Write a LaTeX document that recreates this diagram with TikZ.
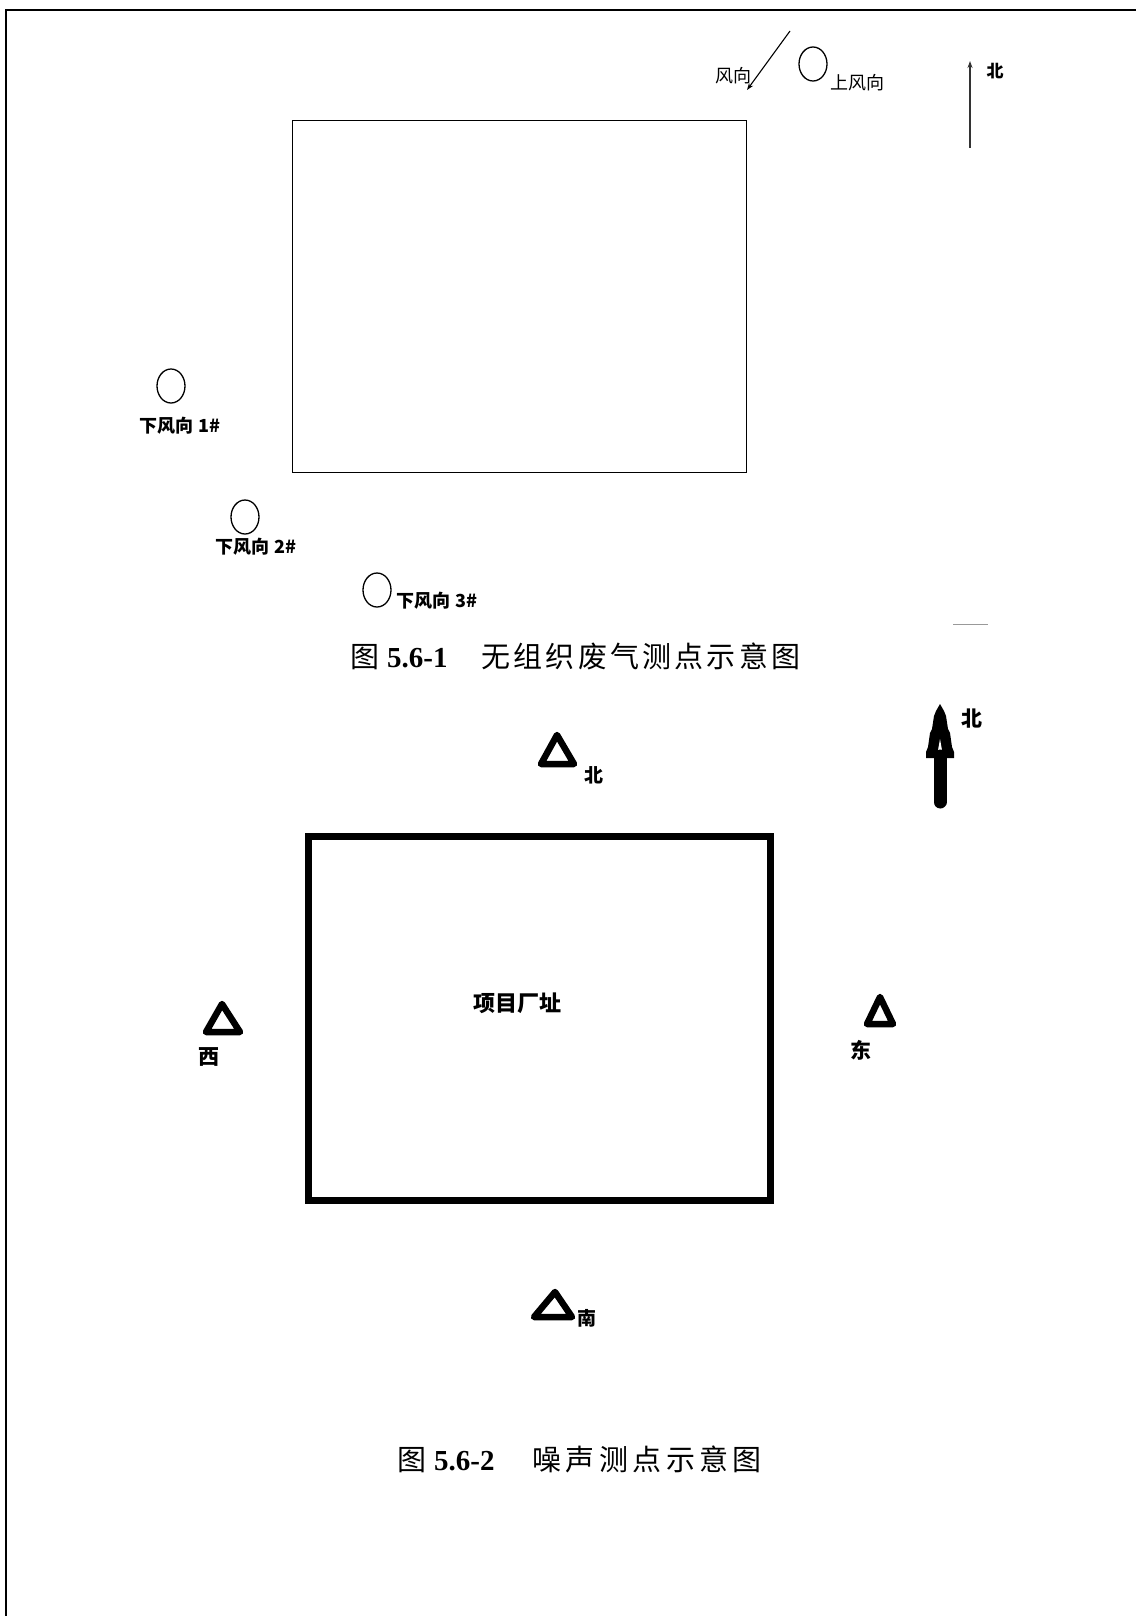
\documentclass[tikz,border=0pt]{standalone}
\usepackage{fontspec}
\setmainfont{Liberation Serif}
\newfontfamily\cjk{Noto Sans CJK SC}
\newfontfamily\cjkcapa[LetterSpace=11]{Noto Sans CJK SC}
\newfontfamily\cjkcapb[LetterSpace=15]{Noto Sans CJK SC}
\usetikzlibrary{arrows.meta,shapes.geometric}
\begin{document}
\begin{tikzpicture}[x=1pt,y=-1pt,
  lbl/.style={font=\cjk\bfseries\fontsize{18}{18}\selectfont, inner sep=0pt},
  lblr/.style={font=\cjk\fontsize{18}{18}\selectfont, inner sep=0pt},
  lblb/.style={font=\cjk\bfseries\fontsize{21}{21}\selectfont, inner sep=0pt},
  station/.style={draw, ellipse, line width=1.3pt, minimum width=28pt, minimum height=34pt, inner sep=0pt},
  tri/.style={draw, line width=6.5pt, line join=round},
  captext/.style={font=\fontsize{29}{30}\selectfont, inner sep=0pt, anchor=west},
  frame/.style={line width=1.6pt}
]
\useasboundingbox (0,0) rectangle (1136,1616);
% page frame (top and left)
\draw[frame] (6,1616) -- (6,10) -- (1136,10);

% ---------- Figure 5.6-1 ----------
\draw[line width=1pt] (292,121) rectangle (746,472);

% wind direction arrow
\coordinate (wA) at (790,31);
\coordinate (wB) at (747,90);
\draw[line width=1.1pt, -{Stealth[length=7pt,width=5pt]}] (wA) -- (wB);
\node[lblr] (fx) at (733,76) {风向};

\node[station] (up) at (813,64) {};
\node[lblr] (uplbl) at (857,83) {上风向};

% thin north arrow
\coordinate (nA) at (970,148);
\coordinate (nB) at (970,61);
\draw[line width=1.2pt, black!80, -{Stealth[length=7pt,width=5pt]}] (nA) -- (nB);
\node[lbl, font=\cjk\fontsize{17}{17}\selectfont\bfseries] (n1) at (995,71) {北};

\node[station] (d1) at (171,386) {};
\node[lbl] (d1l) at (180,426) {下风向 1\#};
\node[station] (d2) at (245,517) {};
\node[lbl] (d2l) at (256,547) {下风向 2\#};
\node[station] (d3) at (377,590) {};
\node[lbl] (d3l) at (437,601) {下风向 3\#};

\draw[black!40, line width=1pt] (953,624) -- (988,624);

\node[captext] (cap1) at (350,656) {{\cjk 图}\hspace{8pt}{\bfseries 5.6-1}\hspace{34pt}{\cjkcapa 无组织废气测点示意图}};

% ---------- Figure 5.6-2 ----------
\draw[line width=7pt] (308,836) rectangle (770,1200);
\node[lblb, font=\cjk\bfseries\fontsize{22}{22}\selectfont] (site) at (517,1003) {项目厂址};

% bold north arrow
\fill (940,704) -- (944,711) -- (946,716) -- (948,729) -- (950,733) -- (952,747) -- (954,752) -- (954,758)
      -- (926,758) -- (926,752) -- (928,747) -- (930,733) -- (932,729) -- (934,716) -- (936,711) -- cycle;
\fill[white] (940,739) -- (942.5,753) -- (937.5,753) -- cycle;
\coordinate (bA) at (940,756);
\coordinate (bB) at (940,802);
\draw[line width=13pt, line cap=round] (bA) -- (bB);
\node[lblb] (n2) at (972,719) {北};

% noise points
\draw[tri] (557,735) -- (574,764) -- (541,764) -- cycle;
\node[lblb, font=\cjk\bfseries\fontsize{19}{19}\selectfont] (pn) at (594,775) {北};
\draw[tri] (222,1004) -- (240,1032) -- (206,1032) -- cycle;
\node[lblb] (pw) at (209,1057) {西};
\draw[tri] (880,997) -- (893,1024) -- (867,1024) -- cycle;
\node[lblb] (pe) at (861,1050) {东};
\draw[tri] (555,1292) -- (572,1317) -- (534,1317) -- cycle;
\node[lblb, font=\cjk\bfseries\fontsize{19}{19}\selectfont] (ps) at (587,1318) {南};

\node[captext] (cap2) at (397,1459) {{\cjk 图}\hspace{8pt}{\bfseries 5.6-2}\hspace{38pt}{\cjkcapb 噪声测点示意图}};
\end{tikzpicture}
\end{document}
